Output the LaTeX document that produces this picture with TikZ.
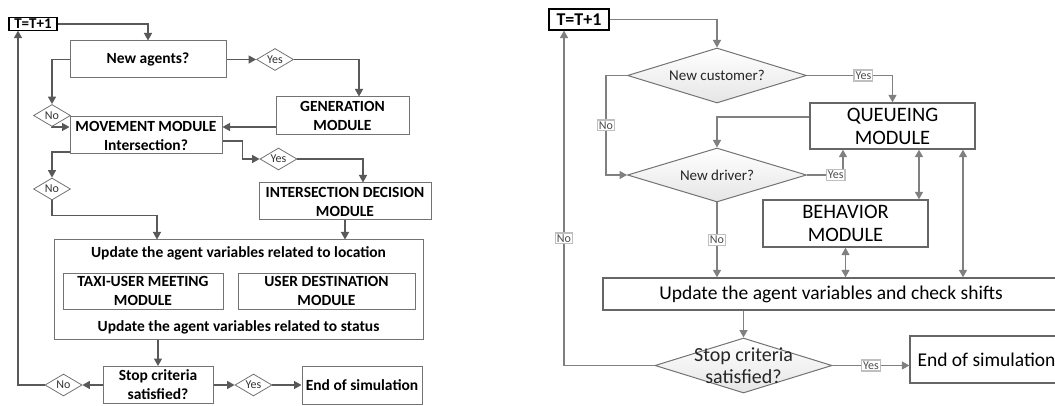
\documentclass[tikz,border=0pt]{standalone}
\usepackage{fontspec}
\setmainfont{Carlito}
\usetikzlibrary{arrows.meta,shapes.geometric}
\newcommand{\fsz}[2]{\fontsize{#1}{#2}\selectfont}
\tikzset{
  >={Triangle[length=7.5pt,width=8pt]},
  tbox/.style={draw=black,line width=1.1pt,fill=white,inner sep=1.2pt,
    font=\bfseries\fsz{15}{17}},
  lbox/.style={draw=black!55,line width=1pt,fill=white,align=center,
    inner sep=1pt,font=\bfseries\fsz{15.5}{19}},
  ltxt/.style={align=center,inner sep=1pt,font=\bfseries\fsz{15.5}{19}},
  ldia/.style={diamond,draw=black!55,line width=0.8pt,fill=white,
    inner sep=0pt,shape aspect=1.7,minimum width=37pt,minimum height=22pt,
    font=\fsz{12}{12},text=black!80},
  lflow/.style={->,draw=black!65,line width=1.4pt},
  rbox/.style={draw=black!60,line width=1.3pt,fill=white,align=center,
    inner sep=1pt,font=\fsz{19.5}{23}},
  rdia/.style={diamond,draw=black!55,line width=1pt,top color=white,
    bottom color=black!10,inner sep=0pt},
  dtxt/.style={align=center,inner sep=0pt,text=black!85,font=\fsz{15}{18}},
  rflow/.style={->,draw=black!50,line width=1.4pt},
  rboth/.style={<->,draw=black!50,line width=1.4pt},
  rlbl/.style={draw=black!25,fill=white,inner sep=1.5pt,text=black!70,
    font=\fsz{12}{12}},
}
\begin{document}
\begin{tikzpicture}[x=1pt,y=-1pt]
  \useasboundingbox (0,0) rectangle (1055,406);
  % left chart
  \node[tbox,minimum width=48pt,minimum height=12pt] (ta) at (33,24) {T=T+1};
  \node[lbox,minimum width=156pt,minimum height=37pt] (newag) at (148,59.5) {New agents?};
  \node[ldia] (yes1) at (275,59.5) {Yes};
  \node[lbox,minimum width=133pt,minimum height=38pt] (gen) at (342.5,116) {GENERATION\\MODULE};
  \node[lbox,minimum width=152pt,minimum height=37pt] (move) at (146,135.5) {MOVEMENT MODULE\\Intersection?};
  \node[ldia] (no1) at (52,115.5) {No};
  \node[ldia] (yes2) at (278.5,159) {Yes};
  \node[lbox,minimum width=172pt,minimum height=37pt] (inter) at (345,201.5) {INTERSECTION DECISION\\MODULE};
  \node[ldia] (no2) at (52,189) {No};
  \node[lbox,minimum width=369pt,minimum height=99pt] (upd) at (238.5,289.5) {};
  \node[ltxt] (loc) at (238.5,253) {Update the agent variables related to location};
  \node[lbox,minimum width=160pt,minimum height=36pt] (taxi) at (143,291) {TAXI-USER MEETING\\MODULE};
  \node[lbox,minimum width=177pt,minimum height=36pt] (dest) at (326.5,291) {USER DESTINATION\\MODULE};
  \node[ltxt] (stat) at (238.5,327) {Update the agent variables related to status};
  \node[lbox,minimum width=110pt,minimum height=37pt] (stop) at (158,385) {Stop criteria\\satisfied?};
  \node[ldia] (yes3) at (253.5,385) {Yes};
  \node[lbox,minimum width=120pt,minimum height=38pt] (fin) at (362,385) {End of simulation};
  \node[ldia] (no3) at (63.5,385) {No};
  \draw[lflow] (ta.east) -| (newag.north);
  \draw[lflow] (newag.east) -- (yes1.west);
  \draw[lflow] (yes1.east) -| ([xshift=16.5pt]gen.north);
  \draw[lflow] ([yshift=-11pt]gen.west) -- ([yshift=8.5pt]move.east);
  \draw[lflow] (newag.west) -| (no1.north);
  \draw[lflow] (no1.south) |- ([yshift=8.5pt]move.west);
  \draw[lflow] ([yshift=-5.5pt]move.east) -| ([xshift=-17pt]yes2.west) -- (yes2.west);
  \draw[lflow] (yes2.east) -| ([xshift=18pt]inter.north);
  \draw[lflow] ([yshift=-16.5pt]move.west) -| (no2.north);
  \draw[lflow] (no2.south) -- ++(0,15) -| ([xshift=-81.5pt]upd.north);
  \draw[lflow] (inter.south) -- (inter.south |- upd.north);
  \draw[lflow] (stop.north |- upd.south) -- (stop.north);
  \draw[lflow] (stop.east) -- (yes3.west);
  \draw[lflow] (yes3.east) -- (fin.west);
  \draw[lflow] (stop.west) -- (no3.east);
  \draw[lflow] (no3.west) -| ([xshift=-15pt]ta.south);
  % right chart
  \node[tbox,font=\bfseries\fsz{18}{20},minimum width=60pt,minimum height=21pt] (tb) at (579,19.5) {T=T+1};
  \node[rdia,minimum width=179pt,minimum height=55pt,
    label={[dtxt]center:New customer?}] (cust) at (717,75.5) {};
  \node[rbox,font=\fsz{20.5}{23},minimum width=165pt,minimum height=46pt] (queue) at (892.5,126) {QUEUEING\\MODULE};
  \node[rdia,minimum width=179pt,minimum height=54pt,
    label={[dtxt]center:New driver?}] (drv) at (717,175) {};
  \node[rbox,font=\fsz{20.5}{23},minimum width=165pt,minimum height=47pt] (beh) at (845.5,223.5) {BEHAVIOR\\MODULE};
  \node[rbox,minimum width=456pt,minimum height=32pt] (chk) at (831,294) {Update the agent variables and check shifts};
  \node[rdia,minimum width=177pt,minimum height=55pt,
    label={[dtxt,font=\fsz{20}{22}]center:Stop criteria\\satisfied?}] (crit) at (743.5,365.5) {};
  \node[rbox,minimum width=153pt,minimum height=47pt] (fin2) at (986.5,359.5) {End of simulation};
  \draw[rflow] (tb.east) -| (cust.north);
  \draw[rflow] (cust.east) -| node[rlbl,pos=0.33]{Yes} (queue.north);
  \draw[rflow] (cust.west) -- ++(-21,0) |- node[rlbl,pos=0.25]{No} (drv.west);
  \draw[rflow] ([yshift=9pt]queue.west) -| (drv.north);
  \draw[rflow] (drv.east) -| node[rlbl,pos=0.4]{Yes} ([xshift=-49.5pt]queue.south);
  \draw[rboth] ([xshift=26.5pt]queue.south) -- ([xshift=73.5pt]beh.north);
  \draw[rboth] ([xshift=70.5pt]queue.south) coordinate (q2) -- (q2 |- chk.north);
  \draw[rboth] (beh.south) -- (beh.south |- chk.north);
  \draw[rflow] (drv.south) -- node[rlbl]{No} (drv.south |- chk.north);
  \draw[rflow] (crit.north |- chk.south) -- (crit.north);
  \draw[rflow] (crit.east) -- node[rlbl]{Yes} (crit.east -| fin2.west);
  \draw[rflow] (crit.west) -| node[rlbl,pos=0.69]{No} ([xshift=-15pt]tb.south);
\end{tikzpicture}
\end{document}
